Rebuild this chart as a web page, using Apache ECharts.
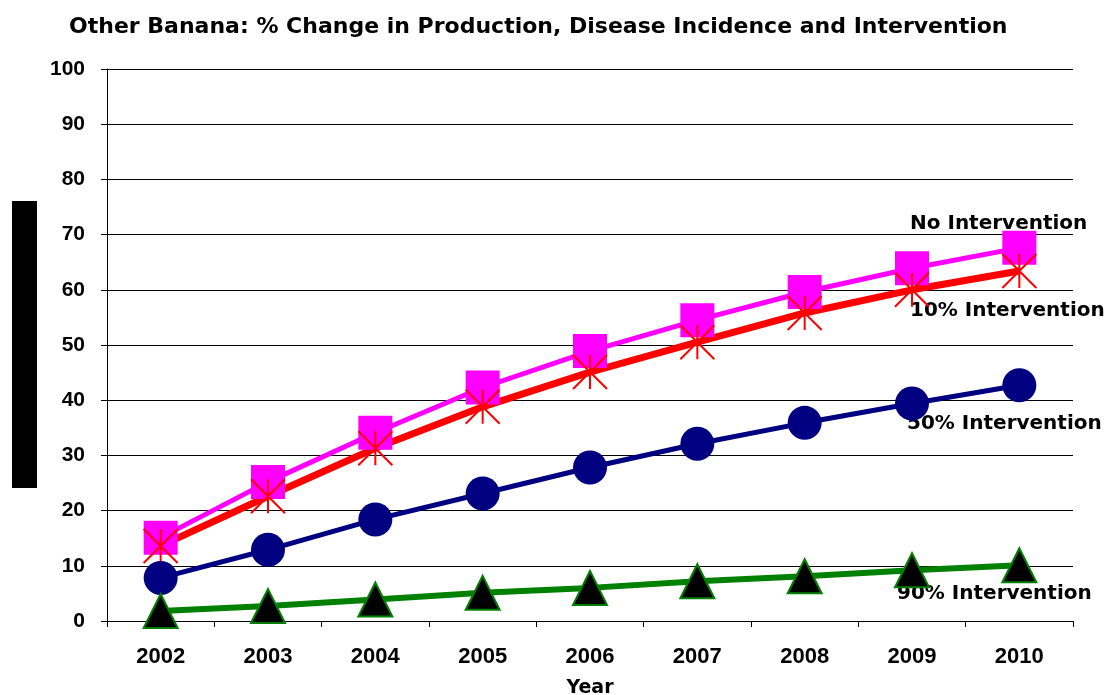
<!DOCTYPE html>
<html><head><meta charset="utf-8">
<script src="https://cdn.jsdelivr.net/npm/echarts@6/dist/echarts.min.js"></script>
<style>html,body{margin:0;padding:0;background:#fff}#c{width:1107px;height:695px}</style>
</head><body><div id="c"></div>
<script>
const years = ['2002','2003','2004','2005','2006','2007','2008','2009','2010'];
const noIntervention = [15.1, 25.2, 34.1, 42.3, 48.9, 54.5, 59.6, 63.9, 67.6];
const int10 = [13.6, 22.6, 31.3, 38.8, 45.1, 50.5, 55.8, 60.0, 63.4];
const int50 = [7.8, 12.9, 18.4, 23.1, 27.8, 32.1, 35.9, 39.4, 42.7];
const int90 = [1.8, 2.7, 3.9, 5.1, 6.0, 7.2, 8.1, 9.2, 10.1];
const yTicks = [0,10,20,30,40,50,60,70,80,90,100];
const seriesNames = ['No Intervention','10% Intervention','50% Intervention','90% Intervention'];

const chart = echarts.init(document.getElementById('c'));
const lblFont = {fontFamily:'DejaVu Sans', fontWeight:'bold', fontSize:20, fill:'#000'};
chart.setOption({
  animation:false,
  backgroundColor:'#fff',
  title:{text:'Other Banana: % Change in Production, Disease Incidence and Intervention',
    left:64, top:11,
    textStyle:{fontFamily:'DejaVu Sans', fontWeight:'bold', fontSize:22, color:'#000'}},
  grid:{left:107, right:34, top:69, bottom:74, outerBoundsMode:'none', containLabel:false},
  xAxis:{type:'category', data:years, boundaryGap:true,
    name:'Year', nameLocation:'middle', nameGap:58,
    nameTextStyle:{fontFamily:'DejaVu Sans', fontWeight:'bold', fontSize:19, color:'#000'},
    axisLine:{lineStyle:{color:'#000', width:1}},
    axisTick:{show:true, length:6, lineStyle:{color:'#000'}},
    axisLabel:{margin:25, fontFamily:'Liberation Sans', fontWeight:'bold', fontSize:22, color:'#000'},
    splitLine:{show:false}},
  yAxis:{type:'value', min:yTicks[0], max:yTicks[yTicks.length-1], interval:10,
    axisLine:{show:true, lineStyle:{color:'#000', width:1}},
    axisTick:{show:true, length:6, lineStyle:{color:'#000'}},
    axisLabel:{margin:22, fontFamily:'Liberation Sans', fontWeight:'bold', fontSize:21, color:'#000'},
    splitLine:{show:true, lineStyle:{color:'#000', width:1}}},
  series:[
    {name:seriesNames[0], type:'line', data:noIntervention, symbol:'rect', symbolSize:34,
      lineStyle:{color:'#FF00FF', width:5}, itemStyle:{color:'#FF00FF'}},
    {name:seriesNames[1], type:'line', data:int10, symbol:'path://M1,0L1,2M0,0L2,2M0,2L2,0', symbolSize:34,
      lineStyle:{color:'#FF0000', width:7}, itemStyle:{color:'#FF0000', borderColor:'#FF0000', borderWidth:2}},
    {name:seriesNames[2], type:'line', data:int50, symbol:'circle', symbolSize:34,
      lineStyle:{color:'#000080', width:5}, itemStyle:{color:'#000080'}},
    {name:seriesNames[3], type:'line', data:int90, symbol:'triangle', symbolSize:34,
      lineStyle:{color:'#008000', width:6}, itemStyle:{color:'#000', borderColor:'#008000', borderWidth:2}}
  ],
  graphic:[
    {type:'rect', shape:{x:12, y:201, width:25, height:287}, style:{fill:'#000'}},
    {type:'text', left:910, top:214, style:Object.assign({text:seriesNames[0]}, lblFont)},
    {type:'text', left:910, top:301, style:Object.assign({text:seriesNames[1]}, lblFont)},
    {type:'text', left:907, top:414, style:Object.assign({text:seriesNames[2]}, lblFont)},
    {type:'text', left:897, top:584, style:Object.assign({text:seriesNames[3]}, lblFont)}
  ]
});
</script></body></html>
